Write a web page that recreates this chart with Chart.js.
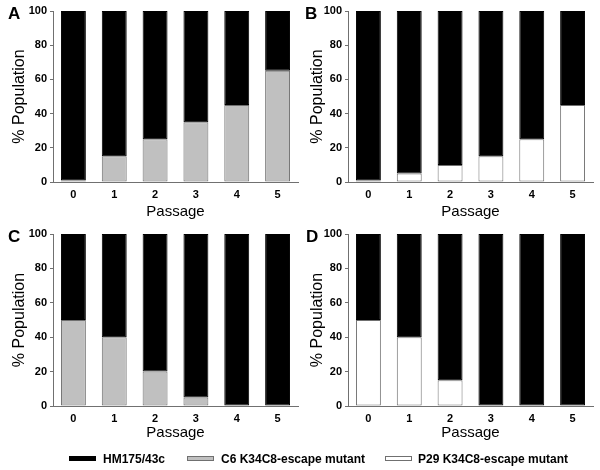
<!DOCTYPE html>
<html>
<head>
<meta charset="utf-8">
<script src="https://cdn.jsdelivr.net/npm/chart.js@4"></script>
<style>
  body { margin: 0; background: #fff; font-family: "Liberation Sans", Arial, sans-serif; }
  #wrap { position: relative; width: 600px; height: 470px; }
  canvas { position: absolute; }
  .letter { position: absolute; font-weight: bold; font-size: 17px; line-height: 17px; color: #000; }
  .lg { position: absolute; top: 452px; font-weight: bold; font-size: 12px; line-height: 14px; z-index: 2; }
  .sw { position: absolute; top: 456px; width: 25px; height: 3px; z-index: 2; }
</style>
</head>
<body>
<div id="wrap">
  <canvas id="chartA" width="300" height="225" style="left:0;top:0"></canvas>
  <canvas id="chartB" width="300" height="225" style="left:300px;top:0"></canvas>
  <canvas id="chartC" width="300" height="223" style="left:0;top:223px"></canvas>
  <canvas id="chartD" width="300" height="223" style="left:300px;top:223px"></canvas>
  <div class="letter" style="left:8px;top:5px">A</div>
  <div class="letter" style="left:305px;top:5px">B</div>
  <div class="letter" style="left:8px;top:228px">C</div>
  <div class="letter" style="left:306px;top:228px">D</div>

  <div class="sw" style="left:69px;background:#000;border:1px solid #000"></div>
  <div class="lg" style="left:103px">HM175/43c</div>
  <div class="sw" style="left:187px;background:#c0c0c0;border:1px solid #707070"></div>
  <div class="lg" style="left:221px">C6 K34C8-escape mutant</div>
  <div class="sw" style="left:385px;background:#fff;border:1px solid #707070"></div>
  <div class="lg" style="left:418px">P29 K34C8-escape mutant</div>
</div>
<script>
const passages = ['0', '1', '2', '3', '4', '5'];

// panel A: HM175/43c vs C6 escape mutant
const hmA = [99, 85, 75, 65, 55, 35];
const c6A = [1, 15, 25, 35, 45, 65];
// panel B: HM175/43c vs P29 escape mutant
const hmB = [99, 95, 90, 85, 75, 55];
const p29B = [1, 5, 10, 15, 25, 45];
// panel C
const hmC = [50, 60, 80, 95, 100, 100];
const c6C = [50, 40, 20, 5, 0, 0];
// panel D
const hmD = [50, 60, 85, 100, 100, 100];
const p29D = [50, 40, 15, 0, 0, 0];

const seriesNames = ['HM175/43c', 'C6 K34C8-escape mutant', 'P29 K34C8-escape mutant'];

const FONT = '"Liberation Sans", Arial, sans-serif';
const AXIS = '#707070';

// no outline on empty bars
const edge = c => (c.raw ? 1 : 0);

function makeChart(id, mutant, mutantName, mutantFill, hm, cfg) {
    const ctx = document.getElementById(id).getContext('2d');
    return new Chart(ctx, {
        type: 'bar',
        data: {
            labels: passages,
            datasets: [{
                label: mutantName,
                data: mutant,
                backgroundColor: mutantFill,
                borderColor: AXIS,
                borderWidth: edge,
                borderSkipped: false
            }, {
                label: seriesNames[0],
                data: hm,
                backgroundColor: '#000',
                borderColor: '#000',
                borderWidth: edge,
                borderSkipped: false
            }]
        },
        options: {
            responsive: false,
            animation: false,
            layout: { padding: { top: cfg.top, right: cfg.right, left: 0, bottom: 0 } },
            plugins: { legend: { display: false }, tooltip: { enabled: false } },
            datasets: { bar: { categoryPercentage: 1, barPercentage: 0.61 } },
            scales: {
                x: {
                    stacked: true,
                    grid: { display: false, drawTicks: false },
                    border: { display: true, color: AXIS, width: 1 },
                    ticks: { color: '#000', padding: 6, font: { family: FONT, size: 11, weight: 'bold' } },
                    title: {
                        display: true, text: 'Passage', color: '#000',
                        padding: { top: 0, bottom: 4 },
                        font: { family: FONT, size: 15 }
                    },
                    afterFit: s => { s.height = cfg.xh; }
                },
                y: {
                    stacked: true,
                    min: 0, max: 100,
                    grid: { display: true, drawOnChartArea: false, drawTicks: true, tickLength: 3, color: AXIS },
                    border: { display: true, color: AXIS, width: 1 },
                    ticks: { stepSize: 20, color: '#000', padding: 3, font: { family: FONT, size: 11, weight: 'bold' } },
                    title: {
                        display: true, text: '% Population', color: '#000',
                        padding: { top: cfg.tpad, bottom: 0 },
                        font: { family: FONT, size: 16 }
                    },
                    afterFit: s => { s.width = cfg.ax; }
                }
            }
        }
    });
}

makeChart('chartA', c6A, seriesNames[1], '#c0c0c0', hmA, { ax: 53, right: 2, top: 11, xh: 43, tpad: 10 });
makeChart('chartB', p29B, seriesNames[2], '#ffffff', hmB, { ax: 48, right: 7, top: 11, xh: 43, tpad: 8 });
makeChart('chartC', c6C, seriesNames[1], '#c0c0c0', hmC, { ax: 53, right: 2, top: 11, xh: 40, tpad: 10 });
makeChart('chartD', p29D, seriesNames[2], '#ffffff', hmD, { ax: 48, right: 7, top: 11, xh: 40, tpad: 8 });
</script>
</body>
</html>
